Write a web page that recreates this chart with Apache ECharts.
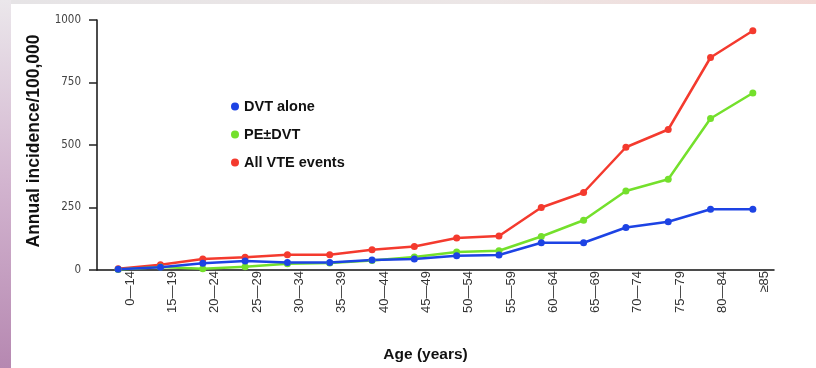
<!DOCTYPE html>
<html>
<head>
<meta charset="utf-8">
<script src="https://cdn.jsdelivr.net/npm/echarts@6/dist/echarts.min.js"></script>
<style>
  html, body { margin: 0; padding: 0; background: #ffffff; }
  #chart { width: 816px; height: 368px; }
</style>
</head>
<body>
<div id="chart"></div>
<script>
const categories = ['0—14', '15—19', '20—24', '25—29', '30—34', '35—39', '40—44', '45—49',
  '50—54', '55—59', '60—64', '65—69', '70—74', '75—79', '80—84', '≥85'];
const dvtAlone = [3, 11, 27, 36, 30, 30, 40, 44, 57, 60, 109, 109, 170, 193, 243, 243];
const peDvt = [2, 12, 5, 13, 25, 28, 38, 52, 72, 77, 134, 199, 316, 363, 606, 708];
const allVte = [5, 21, 44, 51, 61, 61, 81, 94, 128, 136, 250, 310, 491, 562, 850, 957];
const yTicks = [0, 250, 500, 750, 1000];

const chart = echarts.init(document.getElementById('chart'), null, { renderer: 'canvas' });

const BLUE = '#1d43e4';
const GREEN = '#74e02c';
const RED = '#f43a2e';

function lineSeries(name, data, color) {
  return {
    name: name,
    type: 'line',
    data: data,
    symbol: 'circle',
    symbolSize: 7,
    lineStyle: { color: color, width: 2.5 },
    itemStyle: { color: color },
    animation: false
  };
}

chart.setOption({
  backgroundColor: '#ffffff',
  animation: false,
  graphic: [
    {
      type: 'rect', left: 0, top: 0, z: -10,
      shape: { width: 816, height: 4 },
      style: {
        fill: new echarts.graphic.LinearGradient(0, 0, 1, 0, [
          { offset: 0, color: '#e6e4e6' }, { offset: 0.6, color: '#ece6e6' }, { offset: 1, color: '#f3d8d5' }
        ])
      }
    },
    {
      type: 'rect', left: 0, top: 0, z: -10,
      shape: { width: 11, height: 368 },
      style: {
        fill: new echarts.graphic.LinearGradient(0, 0, 0, 1, [
          { offset: 0, color: '#ebe7eb' }, { offset: 0.5, color: '#d2b4cf' }, { offset: 1, color: '#b688b1' }
        ])
      }
    }
  ],
  legend: {
    orient: 'vertical',
    left: 226,
    top: 94,
    itemGap: 13,
    itemWidth: 8,
    itemHeight: 8,
    icon: 'circle',
    textStyle: { fontFamily: 'Liberation Sans', fontWeight: 'bold', fontSize: 14.5, color: '#111' },
    data: ['DVT alone', 'PE±DVT', 'All VTE events']
  },
  grid: { left: 97, top: 20, right: 42, bottom: 97 },
  xAxis: {
    type: 'category',
    data: categories,
    boundaryGap: true,
    name: 'Age (years)',
    nameLocation: 'middle',
    nameGap: 77,
    nameTextStyle: { fontFamily: 'Liberation Sans', fontWeight: 'bold', fontSize: 15.5, color: '#111', padding: [0, 20, 0, 0] },
    axisLine: { lineStyle: { color: '#111', width: 1.5 } },
    axisTick: { alignWithLabel: true, length: 11, lineStyle: { color: '#222', width: 1.5 } },
    axisLabel: {
      rotate: 90,
      interval: 0,
      margin: 1,
      fontFamily: 'Liberation Sans',
      fontSize: 13,
      color: '#333',
      verticalAlign: 'top',
      lineHeight: 24
    }
  },
  yAxis: {
    type: 'value',
    min: yTicks[0],
    max: yTicks[yTicks.length - 1],
    interval: 250,
    name: 'Annual incidence/100,000',
    nameLocation: 'middle',
    nameGap: 54,
    nameTextStyle: { fontFamily: 'Liberation Sans', fontWeight: 'bold', fontSize: 17.5, color: '#111', padding: [0, 0, 0, 8] },
    splitLine: { show: false },
    axisLine: { show: true, lineStyle: { color: '#111', width: 1.5 } },
    axisTick: { show: true, length: 8, lineStyle: { color: '#222', width: 1.5 } },
    axisLabel: { margin: 16, fontFamily: 'DejaVu Sans Condensed', fontSize: 11.5, color: '#444', formatter: function (v) { return String(v); } }
  },
  series: [
    lineSeries('All VTE events', allVte, RED),
    lineSeries('PE±DVT', peDvt, GREEN),
    lineSeries('DVT alone', dvtAlone, BLUE)
  ]
});
</script>
</body>
</html>
